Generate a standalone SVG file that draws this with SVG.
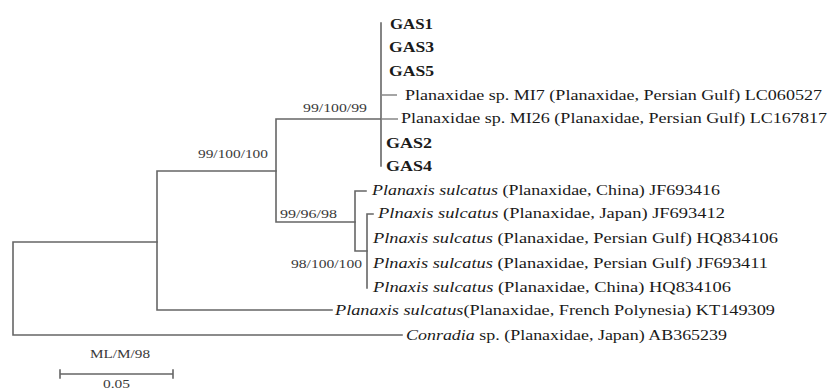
<svg xmlns="http://www.w3.org/2000/svg" width="829" height="392" viewBox="0 0 829 392">
<style>
  .br { fill: none; stroke: #666; stroke-width: 1.6; stroke-linecap: square; }
  .tip { fill: none; stroke: #888; stroke-width: 1.4; }
  .t { font-family: "Liberation Serif", "Times New Roman", serif; font-size: 14px; fill: #1a1a1a; }
  .b { font-weight: bold; }
  .i { font-style: italic; }
  .s { font-family: "Liberation Serif", "Times New Roman", serif; font-size: 13px; fill: #3a3a3a; }
</style>
<rect width="829" height="392" fill="#ffffff"/>
<g id="connectors">
  <path class="br" d="M13 242 V335 M13 242 H157 M13 335 H402"/>
  <path class="br" d="M157 171 V310 M157 310 H332 M157 171 H276"/>
  <path class="br" d="M276 119 V222 M276 119 H381 M276 222 H355"/>
  <path class="br" d="M381 23 V166"/>
  <path class="tip" d="M381 95 H397 M381 119 H398"/>
  <path class="br" d="M355 191 V251 M355 191 H366 M355 251 H367"/>
  <path class="br" d="M367 214 V288 M367 214 H373"/>
  <path class="br" d="M60 374 H173 M60 370 V378 M173 370 V378"/>
</g>
<g id="gas1"><text class="t b" x="390" y="29" textLength="43" lengthAdjust="spacingAndGlyphs">GAS1</text></g>
<g id="gas3"><text class="t b" x="389" y="52" textLength="45" lengthAdjust="spacingAndGlyphs">GAS3</text></g>
<g id="gas5"><text class="t b" x="389" y="76" textLength="45" lengthAdjust="spacingAndGlyphs">GAS5</text></g>
<g id="mi7"><text class="t" x="405" y="100" textLength="417" lengthAdjust="spacingAndGlyphs">Planaxidae sp. MI7 (Planaxidae, Persian Gulf) LC060527</text></g>
<g id="mi26"><text class="t" x="401" y="123" textLength="426" lengthAdjust="spacingAndGlyphs">Planaxidae sp. MI26 (Planaxidae, Persian Gulf) LC167817</text></g>
<g id="gas2"><text class="t b" x="386" y="148" textLength="46" lengthAdjust="spacingAndGlyphs">GAS2</text></g>
<g id="gas4"><text class="t b" x="386" y="171" textLength="46" lengthAdjust="spacingAndGlyphs">GAS4</text></g>
<g id="ps-china1"><text class="t" x="372" y="195" textLength="348" lengthAdjust="spacingAndGlyphs"><tspan class="i">Planaxis sulcatus</tspan> (Planaxidae, China) JF693416</text></g>
<g id="ps-japan"><text class="t" x="378" y="218" textLength="347" lengthAdjust="spacingAndGlyphs"><tspan class="i">Plnaxis sulcatus</tspan> (Planaxidae, Japan) JF693412</text></g>
<g id="ps-pg1"><text class="t" x="373" y="243" textLength="405" lengthAdjust="spacingAndGlyphs"><tspan class="i">Plnaxis sulcatus</tspan> (Planaxidae, Persian Gulf) HQ834106</text></g>
<g id="ps-pg2"><text class="t" x="373" y="268" textLength="395" lengthAdjust="spacingAndGlyphs"><tspan class="i">Plnaxis sulcatus</tspan> (Planaxidae, Persian Gulf) JF693411</text></g>
<g id="ps-china2"><text class="t" x="373" y="292" textLength="358" lengthAdjust="spacingAndGlyphs"><tspan class="i">Plnaxis sulcatus</tspan> (Planaxidae, China) HQ834106</text></g>
<g id="ps-fp"><text class="t" x="335" y="315" textLength="440" lengthAdjust="spacingAndGlyphs"><tspan class="i">Planaxis sulcatus</tspan>(Planaxidae, French Polynesia) KT149309</text></g>
<g id="conradia"><text class="t" x="406" y="340" textLength="321" lengthAdjust="spacingAndGlyphs"><tspan class="i">Conradia</tspan> sp. (Planaxidae, Japan) AB365239</text></g>
<g id="support-gas"><text class="s" x="303" y="112" textLength="64" lengthAdjust="spacingAndGlyphs">99/100/99</text></g>
<g id="support-ingroup"><text class="s" x="198" y="158" textLength="70" lengthAdjust="spacingAndGlyphs">99/100/100</text></g>
<g id="support-sulcatus"><text class="s" x="280" y="218" textLength="57" lengthAdjust="spacingAndGlyphs">99/96/98</text></g>
<g id="support-sub"><text class="s" x="291" y="268" textLength="71" lengthAdjust="spacingAndGlyphs">98/100/100</text></g>
<g id="legend"><text class="s" x="90" y="358" textLength="60" lengthAdjust="spacingAndGlyphs">ML/M/98</text></g>
<g id="scale"><text class="s" x="103" y="388" textLength="27" lengthAdjust="spacingAndGlyphs">0.05</text></g>
</svg>
